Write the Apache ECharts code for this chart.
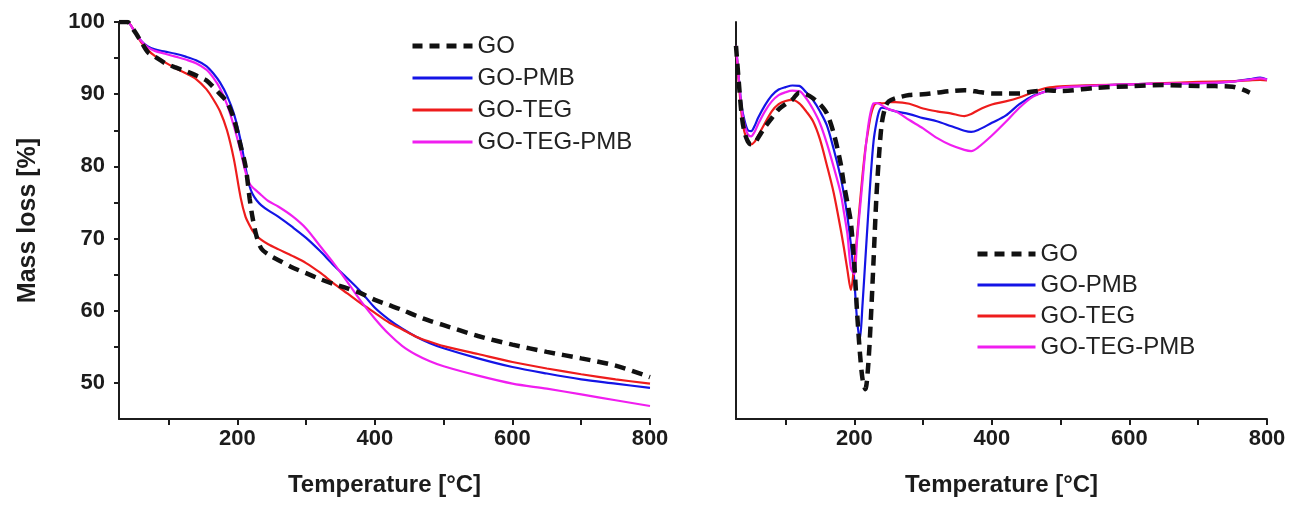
<!DOCTYPE html>
<html>
<head>
<meta charset="utf-8">
<script src="https://cdn.jsdelivr.net/npm/echarts@6/dist/echarts.min.js"></script>
<style>
html, body { margin: 0; padding: 0; background: #fff; }
#chart { width: 1299px; height: 511px; }
</style>
</head>
<body>
<div id="chart"></div>
<script>
var names = ['GO', 'GO-PMB', 'GO-TEG', 'GO-TEG-PMB'];
var colors = ['#111111', '#1414e6', '#ee1c1c', '#f01ef0'];

// axis ticks / labels
var xTicks = [100, 200, 300, 400, 500, 600, 700, 800];
var xLabels = [200, 400, 600, 800];
var yTicks = [50, 55, 60, 65, 70, 75, 80, 85, 90, 95, 100];
var yLabels = [50, 60, 70, 80, 90, 100];

// TGA (left): mass loss [%] vs temperature
var tgaTemp = [28, 40, 50, 60, 70, 80, 95, 110, 125, 140, 155, 165, 175, 185, 195, 205, 212, 218, 222, 228,
  235, 245, 260, 280, 300, 320, 340, 360, 380, 400, 420, 440, 460, 480, 500, 550, 600, 650, 700, 750, 800];
var tgaGO = [100, 100, 98.8, 97.3, 95.8, 95.2, 94.3, 93.7, 93.2, 92.6, 91.9, 91.0, 90.0, 88.9, 86.6, 82.8, 80.0, 75.5, 73.0, 70.3,
  68.6, 67.8, 67.0, 66.0, 65.2, 64.4, 63.7, 63.1, 62.4, 61.5, 60.8, 60.1, 59.3, 58.6, 58.0, 56.5, 55.3, 54.3, 53.4, 52.4, 50.8];
var tgaPMB = [100, 100, 98.8, 97.4, 96.6, 96.2, 95.9, 95.6, 95.2, 94.7, 93.9, 92.9, 91.6, 89.8, 87.3, 83.5, 79.8, 77.2, 76.2, 75.3,
  74.6, 73.9, 73.0, 71.6, 70.1, 68.3, 66.3, 64.5, 62.6, 60.4, 58.8, 57.5, 56.4, 55.5, 54.8, 53.4, 52.2, 51.3, 50.5, 49.9, 49.3];
var tgaTEG = [100, 100, 98.8, 97.2, 96.1, 95.3, 94.4, 93.6, 92.9, 92.1, 90.7, 89.3, 87.6, 85.0, 81.0, 75.6, 73.0, 71.8, 71.1, 70.4,
  69.8, 69.2, 68.5, 67.6, 66.6, 65.3, 63.8, 62.4, 61.0, 59.7, 58.4, 57.4, 56.4, 55.7, 55.1, 54.0, 52.9, 52.0, 51.2, 50.5, 49.9];
var tgaTEGPMB = [100, 100, 98.8, 97.4, 96.5, 96.0, 95.6, 95.2, 94.8, 94.3, 93.4, 92.3, 90.8, 88.6, 85.6, 82.0, 79.2, 77.6, 77.1, 76.6,
  76.0, 75.2, 74.4, 73.1, 71.4, 69.0, 66.6, 64.0, 61.3, 58.9, 56.8, 55.1, 53.9, 53.0, 52.3, 51.0, 49.9, 49.2, 48.4, 47.6, 46.8];

// DTG (right): relative units, no scale shown in the original
var dtgTemp = [28, 32, 36, 40, 45, 50, 55, 60, 70, 80, 90, 100, 110, 120, 130, 140, 150, 160, 170, 180,
  185, 190, 195, 200, 204, 208, 212, 216, 220, 224, 228, 232, 236, 240, 245, 250, 260, 280, 300, 320,
  340, 360, 370, 380, 400, 420, 440, 460, 480, 500, 550, 600, 650, 700, 750, 775, 790, 800];
var dtgGO = [94, 85, 77, 72.5, 70, 69.2, 69.5, 70.8, 73.5, 75.8, 78, 79.3, 80.5, 82.2, 81.8, 80.8, 79.3, 77, 72, 64.5,
  59, 54.5, 49.5, 39, 27, 17, 10, 7.5, 13, 25, 40, 55.5, 66.5, 74.5, 78.5, 80, 80.8, 81.6, 81.8, 82.2,
  82.6, 82.8, 82.7, 82.4, 82, 82, 82, 82.5, 82.8, 82.6, 83.4, 83.8, 84.1, 83.9, 83.7, 82.2, null, null];
var dtgPMB = [94, 86, 79, 75.5, 72.8, 72.5, 73.8, 75.8, 79, 81.5, 83, 83.6, 84, 83.9, 82.3, 80.3, 77.5, 74, 68, 61,
  56.5, 51, 44, 35, 25, 20, 29, 40, 51, 61.5, 70, 74.5, 77.5, 78.4, 78.3, 78.0, 77.5, 76.8, 75.8, 75,
  73.8, 72.6, 72.3, 72.8, 74.6, 76.4, 79.3, 81.4, 82.6, 83.6, 84, 84.3, 84.5, 84.6, 85.0, 85.6, 86, 85.5];
var dtgTEG = [94, 85, 77, 72.5, 70, 69.2, 69.8, 71.3, 74.5, 77.5, 79.3, 80.1, 80.4, 79.5, 77.5, 75, 70.5, 64, 57, 48,
  43, 37.5, 32.5, 39, 46, 54, 61.5, 68, 72.5, 76.5, 78.8, 79.5, 79.6, 79.5, 79.6, 79.8, 79.8, 79.4, 78.2, 77.5,
  77, 76.3, 76.8, 77.8, 79.2, 80, 81, 82.3, 83.4, 83.8, 84.1, 84.3, 84.6, 84.9, 85.1, 85.3, 85.4, 85.3];
var dtgTEGPMB = [94, 86, 78.5, 74.5, 71.8, 71.2, 72.3, 74.2, 77.5, 80, 81.6, 82.3, 82.7, 82.6, 80.8, 78, 74.5, 69.5, 63.5, 57,
  52, 46.5, 38, 36.5, 45, 52.5, 60, 67.5, 73.5, 77.5, 79.5, 79.6, 79.4, 79, 78.5, 78, 77.5, 75.3, 73.2, 70.8,
  69, 67.8, 67.5, 68.4, 71.4, 74.8, 78.4, 81.2, 82.6, 83.5, 84, 84.3, 84.5, 84.6, 85.0, 85.5, 85.8, 85.5];

var font = '"Liberation Sans", Arial, sans-serif';
var ink = '#1c1c1c';

function pairs(t, v) {
  var out = [];
  for (var i = 0; i < t.length; i++) {
    if (v[i] != null) out.push([t[i], v[i]]);
  }
  return out;
}

function xAx(g) {
  return {
    type: 'value', gridIndex: g, min: 28, max: 800,
    axisLine: { onZero: false, lineStyle: { color: ink, width: 2 } },
    axisTick: { customValues: xTicks, length: 6, lineStyle: { color: ink, width: 2 } },
    axisLabel: { customValues: xLabels, fontSize: 22, fontWeight: 'bold', color: ink, fontFamily: font, margin: 9 },
    splitLine: { show: false },
    name: 'Temperature [°C]', nameLocation: 'middle', nameGap: 54,
    nameTextStyle: { fontSize: 24, fontWeight: 'bold', color: ink, fontFamily: font }
  };
}

function mkSeries(name, i, xi, data) {
  var dashed = i === 0;
  return {
    name: name, type: 'line', xAxisIndex: xi, yAxisIndex: xi,
    data: data, showSymbol: false, symbol: 'none', smooth: 0.3,
    lineStyle: { color: colors[i], width: dashed ? 4.5 : 2.2, type: dashed ? [11, 7] : 'solid' },
    itemStyle: { color: colors[i] },
    z: dashed ? 3 : 2
  };
}

var tgaSets = [tgaGO, tgaPMB, tgaTEG, tgaTEGPMB];
var dtgSets = [dtgGO, dtgPMB, dtgTEG, dtgTEGPMB];
var series = [];
names.forEach(function (n, i) { series.push(mkSeries(n, i, 0, pairs(tgaTemp, tgaSets[i]))); });
names.forEach(function (n, i) { series.push(mkSeries(n, i, 1, pairs(dtgTemp, dtgSets[i]))); });

// legend entries: thicker lines, no marker
var legendData = names.map(function (n, i) {
  return {
    name: n,
    lineStyle: { color: colors[i], width: i === 0 ? 5 : 3, type: i === 0 ? [10, 7] : 'solid' },
    itemStyle: { color: 'rgba(0,0,0,0)', borderWidth: 0, opacity: 0 }
  };
});
var legendText = { fontSize: 24, color: '#222', fontFamily: font };

var myChart = echarts.init(document.getElementById('chart'));
myChart.setOption({
  animation: false,
  backgroundColor: '#fff',
  grid: [
    { left: 119, top: 22, width: 531, height: 397 },
    { left: 736, top: 22, width: 531, height: 397 }
  ],
  legend: [
    { left: 410, top: 34, padding: 0, orient: 'vertical', itemWidth: 60, itemHeight: 14, itemGap: 8,
      selectedMode: false, textStyle: legendText, itemStyle: { opacity: 0 }, data: legendData },
    { left: 975, top: 242, padding: 0, orient: 'vertical', itemWidth: 58, itemHeight: 14, itemGap: 7,
      selectedMode: false, textStyle: legendText, itemStyle: { opacity: 0 }, data: legendData }
  ],
  xAxis: [xAx(0), xAx(1)],
  yAxis: [
    {
      type: 'value', gridIndex: 0, min: 45, max: 100,
      axisLine: { show: true, lineStyle: { color: ink, width: 2 } },
      axisTick: { show: true, customValues: yTicks, length: 5, lineStyle: { color: ink, width: 2 } },
      axisLabel: { customValues: yLabels, fontSize: 22, fontWeight: 'bold', color: ink, fontFamily: font, margin: 14 },
      splitLine: { show: false },
      name: 'Mass loss [%]', nameLocation: 'middle', nameGap: 78,
      nameTextStyle: { fontSize: 25, fontWeight: 'bold', color: ink, fontFamily: font }
    },
    {
      type: 'value', gridIndex: 1, min: 0, max: 100,
      axisLine: { show: true, lineStyle: { color: ink, width: 2 } },
      axisTick: { show: false },
      axisLabel: { show: false },
      splitLine: { show: false }
    }
  ],
  series: series
});
</script>
</body>
</html>
